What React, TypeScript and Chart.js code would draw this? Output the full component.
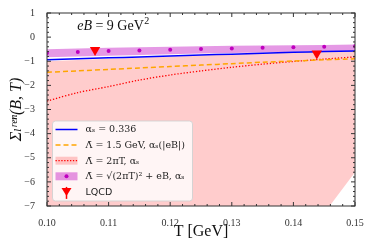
import React, { useEffect, useRef } from "react";
import { Chart, registerables } from "chart.js";

Chart.register(...registerables);

// ---- data ----
const T_GRID = [0.1, 0.105, 0.11, 0.115, 0.12, 0.125, 0.13, 0.135, 0.14, 0.145, 0.15];
const BLUE_ALPHA_FIXED = [-0.94, -0.9, -0.86, -0.82, -0.78, -0.74, -0.71, -0.67, -0.63, -0.6, -0.57];
const ORANGE_LAMBDA15 = [-1.46, -1.4, -1.34, -1.28, -1.22, -1.16, -1.1, -1.04, -0.99, -0.94, -0.9];
const RED_LAMBDA2PIT = [-2.65, -2.3, -2.05, -1.78, -1.57, -1.4, -1.25, -1.12, -1.01, -0.91, -0.82];
const PINK_UPPER = [-1.0, -0.95, -0.9, -0.85, -0.8, -0.76, -0.72, -0.68, -0.64, -0.61, -0.58];
const PINK_LOWER = [-60, -45, -35, -27, -21, -17, -14, -11.5, -9.3, -7.3, -5.6];
const PURPLE_DOTS = [-0.66, -0.62, -0.58, -0.55, -0.52, -0.49, -0.47, -0.44, -0.42, -0.4, -0.38];
const PURPLE_UPPER = [-0.5, -0.47, -0.44, -0.42, -0.4, -0.38, -0.36, -0.35, -0.34, -0.33, -0.31];
const PURPLE_LOWER = [-0.83, -0.8, -0.77, -0.74, -0.71, -0.68, -0.66, -0.64, -0.61, -0.59, -0.57];
const LQCD_T = [0.1078, 0.1438];
const LQCD_VAL = [-0.53, -0.68];
const LQCD_ERR = [0.06, 0.06];

const X_TICKS = [0.1, 0.11, 0.12, 0.13, 0.14, 0.15];
const Y_TICKS = [1, 0, -1, -2, -3, -4, -5, -6, -7];

const LEGEND_LABELS = [
  "αₛ = 0.336",
  "Λ̄ = 1.5 GeV, αₛ(|eB|)",
  "Λ̄ = 2πT, αₛ",
  "Λ̄ = √(2πT)² + eB, αₛ",
  "LQCD",
];

const pts = (xs: number[], ys: number[]) => xs.map((x, i) => ({ x, y: ys[i] }));

const SERIF = "'Liberation Serif', 'DejaVu Serif', serif";

const decorPlugin = {
  id: "decor",
  afterDatasetsDraw(chart: any) {
    const { ctx, chartArea, scales } = chart;
    const { left, right, top, bottom } = chartArea;
    const x = scales.x, y = scales.y;
    ctx.save();
    // LQCD error bars
    ctx.strokeStyle = "#ff0000";
    ctx.lineWidth = 1.5;
    LQCD_T.forEach((t, i) => {
      const px = x.getPixelForValue(t);
      ctx.beginPath();
      ctx.moveTo(px, y.getPixelForValue(LQCD_VAL[i] + LQCD_ERR[i]));
      ctx.lineTo(px, y.getPixelForValue(LQCD_VAL[i] - LQCD_ERR[i]));
      ctx.stroke();
    });
    // frame
    ctx.strokeStyle = "#333";
    ctx.lineWidth = 1;
    ctx.strokeRect(left, top, right - left, bottom - top);
    // ticks inward
    ctx.beginPath();
    for (let k = 0; k <= 25; k++) {
      const v = 0.1 + k * 0.002;
      const px = x.getPixelForValue(v);
      const len = k % 5 === 0 ? 4 : 2;
      ctx.moveTo(px, bottom); ctx.lineTo(px, bottom - len);
      ctx.moveTo(px, top); ctx.lineTo(px, top + len);
    }
    for (let k = 0; k <= 40; k++) {
      const v = -7 + k * 0.2;
      const py = y.getPixelForValue(v);
      const len = k % 5 === 0 ? 4 : 2;
      ctx.moveTo(left, py); ctx.lineTo(left + len, py);
      ctx.moveTo(right, py); ctx.lineTo(right - len, py);
    }
    ctx.stroke();

    // annotation eB = 9 GeV^2
    const ax = left + 0.098 * (right - left);
    const base = top + 17;
    ctx.fillStyle = "#111";
    ctx.textBaseline = "alphabetic";
    ctx.textAlign = "left";
    let cx = ax;
    ctx.font = `italic 14px ${SERIF}`;
    ctx.fillText("eB", cx, base);
    cx += ctx.measureText("eB").width;
    ctx.font = `14px ${SERIF}`;
    ctx.fillText(" = 9 GeV", cx, base);
    cx += ctx.measureText(" = 9 GeV").width;
    ctx.font = `10px ${SERIF}`;
    ctx.fillText("2", cx + 0.5, base - 6);

    // legend
    const bx = left + 5.5, by = bottom - 85, bw = 140, bh = 80;
    ctx.fillStyle = "rgba(255,255,255,0.8)";
    ctx.strokeStyle = "rgba(210,210,210,0.9)";
    ctx.lineWidth = 1;
    ctx.beginPath();
    (ctx as any).roundRect(bx, by, bw, bh, 3);
    ctx.fill();
    ctx.stroke();
    const sx0 = bx + 3, sx1 = bx + 25, tx = bx + 33;
    LEGEND_LABELS.forEach((label, i) => {
      const ry = by + 8.5 + i * 15.6;
      ctx.setLineDash([]);
      if (i === 0) {
        ctx.strokeStyle = "#0000ff"; ctx.lineWidth = 1.5;
        ctx.beginPath(); ctx.moveTo(sx0, ry); ctx.lineTo(sx1, ry); ctx.stroke();
      } else if (i === 1) {
        ctx.strokeStyle = "#ffa500"; ctx.lineWidth = 1.5; ctx.setLineDash([5, 3]);
        ctx.beginPath(); ctx.moveTo(sx0, ry); ctx.lineTo(sx1, ry); ctx.stroke();
      } else if (i === 2) {
        ctx.fillStyle = "rgba(255,0,0,0.2)";
        ctx.fillRect(sx0, ry - 4, sx1 - sx0, 8);
        ctx.strokeStyle = "#ff0000"; ctx.lineWidth = 1.2; ctx.setLineDash([1.3, 1.6]);
        ctx.beginPath(); ctx.moveTo(sx0, ry); ctx.lineTo(sx1, ry); ctx.stroke();
      } else if (i === 3) {
        ctx.fillStyle = "rgba(191,0,191,0.4)";
        ctx.fillRect(sx0, ry - 4, sx1 - sx0, 8);
        ctx.fillStyle = "#bf00bf";
        ctx.beginPath(); ctx.arc((sx0 + sx1) / 2, ry, 2, 0, Math.PI * 2); ctx.fill();
      } else {
        const mx = (sx0 + sx1) / 2;
        ctx.strokeStyle = "#ff0000"; ctx.lineWidth = 1.5;
        ctx.beginPath(); ctx.moveTo(mx, ry - 5); ctx.lineTo(mx, ry + 7); ctx.stroke();
        ctx.fillStyle = "#ff0000";
        ctx.beginPath(); ctx.moveTo(mx - 5, ry - 4); ctx.lineTo(mx + 5, ry - 4); ctx.lineTo(mx, ry + 4); ctx.closePath(); ctx.fill();
      }
      ctx.setLineDash([]);
      ctx.fillStyle = "#222";
      ctx.textBaseline = "middle";
      if (i === 4) ctx.font = "9.5px 'DejaVu Sans', sans-serif";
      else ctx.font = `9.5px 'DejaVu Serif', serif`;
      ctx.fillText(label, tx, ry + 0.5);
    });
    ctx.restore();
  },
};

export default function App() {
  const ref = useRef<HTMLCanvasElement | null>(null);
  useEffect(() => {
    document.body.style.margin = "0";
    const canvas = ref.current!;
    const chart = new Chart(canvas, {
      type: "line",
      data: {
        datasets: [
          {
            label: "LQCD",
            data: pts(LQCD_T, LQCD_VAL),
            showLine: false,
            pointStyle: "triangle",
            rotation: 180,
            pointRadius: 6,
            backgroundColor: "#ff0000",
            borderColor: "#ff0000",
            pointBorderWidth: 0,
          } as any,
          {
            label: "dots",
            data: pts(T_GRID, PURPLE_DOTS),
            showLine: false,
            pointRadius: 2,
            backgroundColor: "#bf00bf",
            borderColor: "#bf00bf",
            pointBorderWidth: 0,
          },
          {
            label: "blue",
            data: pts(T_GRID, BLUE_ALPHA_FIXED),
            borderColor: "#0000ff",
            borderWidth: 1.5,
            pointRadius: 0,
            tension: 0.3,
          },
          {
            label: "orange",
            data: pts(T_GRID, ORANGE_LAMBDA15),
            borderColor: "#ffa500",
            borderWidth: 1.5,
            borderDash: [5, 3],
            pointRadius: 0,
            tension: 0.3,
          },
          {
            label: "red",
            data: pts(T_GRID, RED_LAMBDA2PIT),
            borderColor: "#ff0000",
            borderWidth: 1.3,
            borderDash: [1.3, 1.8],
            pointRadius: 0,
            tension: 0.3,
          },
          {
            label: "purpleUpper",
            data: pts(T_GRID, PURPLE_UPPER),
            borderWidth: 0,
            borderColor: "transparent",
            pointRadius: 0,
          },
          {
            label: "purpleLower",
            data: pts(T_GRID, PURPLE_LOWER),
            borderWidth: 0,
            borderColor: "transparent",
            pointRadius: 0,
            fill: "-1",
            backgroundColor: "rgba(191,0,191,0.4)",
          },
          {
            label: "pinkUpper",
            data: pts(T_GRID, PINK_UPPER),
            borderWidth: 0,
            borderColor: "transparent",
            pointRadius: 0,
          },
          {
            label: "pinkLower",
            data: pts(T_GRID, PINK_LOWER),
            borderWidth: 0,
            borderColor: "transparent",
            pointRadius: 0,
            fill: "-1",
            backgroundColor: "rgba(255,0,0,0.2)",
          },
        ],
      },
      options: {
        animation: false,
        responsive: false,
        events: [],
        layout: { padding: { top: 13, right: 19, left: 0, bottom: 0 } },
        plugins: { legend: { display: false }, tooltip: { enabled: false } },
        scales: {
          x: {
            type: "linear",
            min: 0.1,
            max: 0.15,
            afterBuildTicks: (s: any) => { s.ticks = X_TICKS.map((v) => ({ value: v })); },
            afterFit: (s: any) => { s.height = 43; },
            grid: { display: false },
            border: { display: false },
            ticks: {
              padding: 3,
              color: "#333",
              font: { family: SERIF, size: 10 },
              callback: (v: any) => Number(v).toFixed(2),
              maxRotation: 0,
            },
            title: {
              display: true,
              text: "T [GeV]",
              color: "#111",
              font: { family: SERIF, size: 16 },
              padding: { top: 0, bottom: 8 },
            },
          },
          y: {
            type: "linear",
            min: -7,
            max: 1,
            afterBuildTicks: (s: any) => { s.ticks = Y_TICKS.map((v) => ({ value: v })); },
            afterFit: (s: any) => { s.width = 47; },
            grid: { display: false },
            border: { display: false },
            ticks: {
              padding: 4,
              color: "#333",
              font: { family: SERIF, size: 10 },
              callback: (v: any) => (Number(v) < 0 ? "−" + Math.abs(Number(v)) : String(v)),
            },
            title: {
              display: true,
              text: "Σₗʳᵉⁿ(B, T)",
              color: "#111",
              font: { family: SERIF, size: 16, style: "italic" },
              padding: { top: 7, bottom: 0 },
            },
          },
        },
      },
      plugins: [decorPlugin],
    } as any);
    return () => chart.destroy();
  }, []);
  return (
    <div style={{ width: 374, height: 249 }}>
      <canvas ref={ref} width={374} height={249} style={{ display: "block" }} />
    </div>
  );
}
